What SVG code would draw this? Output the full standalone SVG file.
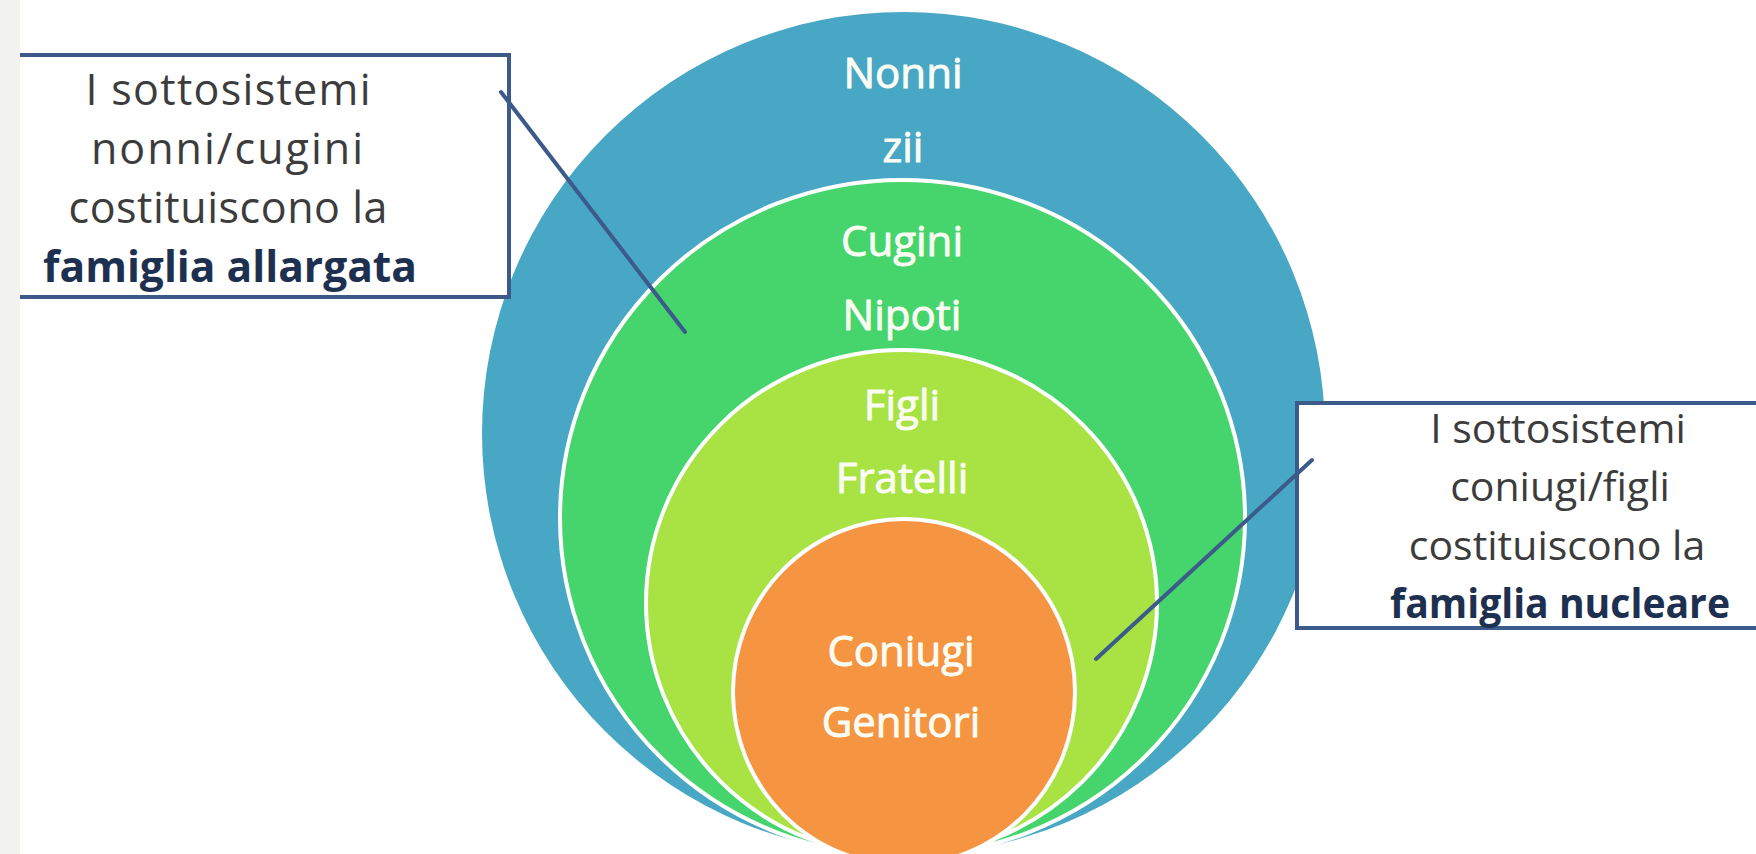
<svg xmlns="http://www.w3.org/2000/svg" width="1756" height="854" viewBox="0 0 1756 854">
<style>
.ring{stroke:#ffffff;stroke-width:4}
.lbl{font-family:"Open Sans","Liberation Sans",sans-serif;font-size:42px;fill:#fbfdf4;stroke:#fbfdf4;stroke-width:0.9px;text-anchor:middle}
.box{fill:#ffffff;stroke:#3c5a8a;stroke-width:4}
.t{font-family:"Open Sans","Liberation Sans",sans-serif;text-anchor:middle}
.bt{fill:#3c3c3c}
.bb{font-weight:bold;fill:#1e3050}
.l43{font-size:43px}
.l41{font-size:41px}
.conn{stroke:#3c5a8a;stroke-width:4;stroke-linecap:round;fill:none}
</style>
<rect x="0" y="0" width="1756" height="854" fill="#ffffff"/>
<g id="node-nonni">
<ellipse cx="903.5" cy="433.5" rx="421.5" ry="421.5" fill="#47a7c4"/>
<text class="lbl" x="903" y="88">Nonni</text>
<text class="lbl" x="903" y="162">zii</text>
</g>
<g id="node-cugini">
<ellipse class="ring" cx="902.5" cy="518" rx="342.5" ry="338" fill="#46d56c"/>
<text class="lbl" x="902" y="256">Cugini</text>
<text class="lbl" x="902" y="330">Nipoti</text>
</g>
<g id="node-figli">
<ellipse class="ring" cx="901.5" cy="603" rx="255.5" ry="253" fill="#a8e343"/>
<text class="lbl" x="902" y="420">Figli</text>
<text class="lbl" x="902" y="493">Fratelli</text>
</g>
<g id="node-coniugi">
<ellipse class="ring" cx="904" cy="692" rx="171" ry="173" fill="#f59441"/>
<text class="lbl" x="901" y="666">Coniugi</text>
<text class="lbl" x="901" y="737">Genitori</text>
</g>
<g id="node-allargata">
<rect class="box" x="4" y="55" width="505" height="242"/>
<text class="t bt l43" x="228" y="105" textLength="285" lengthAdjust="spacing">I sottosistemi</text>
<text class="t bt l43" x="227" y="164" textLength="272" lengthAdjust="spacing">nonni/cugini</text>
<text class="t bt l43" x="228" y="223" textLength="319" lengthAdjust="spacing">costituiscono la</text>
<text class="t bb l43" x="230" y="282" textLength="374" lengthAdjust="spacingAndGlyphs">famiglia  allargata</text>
</g>
<g id="node-nucleare">
<rect class="box" x="1297" y="403" width="470" height="225"/>
<text class="t bt l41" x="1558" y="443">I sottosistemi</text>
<text class="t bt l41" x="1560" y="501">coniugi/figli</text>
<text class="t bt l41" x="1557" y="560">costituiscono la</text>
<text class="t bb l41" x="1560" y="618" textLength="340" lengthAdjust="spacingAndGlyphs">famiglia nucleare</text>
</g>
<rect x="0" y="0" width="20" height="854" fill="#f2f3ee"/>
<g id="connectors">
<line class="conn" x1="501" y1="92" x2="685" y2="332"/>
<line class="conn" x1="1312" y1="460" x2="1096" y2="659"/>
</g>
</svg>
